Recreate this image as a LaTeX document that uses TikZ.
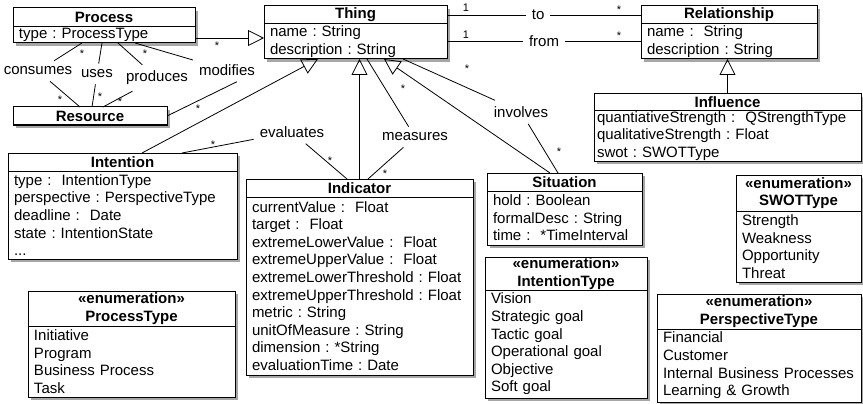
\documentclass[tikz,border=0pt]{standalone}
\usepackage{fontspec}
\setmainfont{Liberation Sans}
\usepackage{tikz}
\usetikzlibrary{arrows.meta, positioning, shadows}

\newcommand{\umlsize}{\fontsize{15}{17.6}\selectfont}
\newcommand{\multsize}{\fontsize{11}{12}\selectfont}
\frenchspacing

\begin{document}
\begin{tikzpicture}[
  x=1pt, y=-1pt,
  umlshadow/.style={drop shadow={shadow xshift=2.5pt, shadow yshift=-3pt, opacity=0.35, fill=black}},
  cls/.style={rectangle, draw, line width=1pt, fill=white, outer sep=0pt, inner sep=0pt, anchor=north, align=center, font=\umlsize\bfseries, umlshadow},
  attrs/.style={rectangle, draw, line width=1pt, fill=white, outer sep=0pt, inner xsep=6pt, inner ysep=0pt, align=left, font=\umlsize, umlshadow},
  lbl/.style={font=\umlsize, inner sep=6pt},
  mult/.style={font=\multsize, inner sep=0pt},
  gen/.style={-{Triangle[open, length=16pt, width=16pt]}, line width=0.8pt},
  assoc/.style={line width=0.8pt}
]
  \path[use as bounding box, fill=white] (0,0) rectangle (863,404);

  % classes
  \node[cls, minimum width=182pt, minimum height=19pt] (process) at (104,8) {Process};
  \node[attrs, below=0pt of process, text width=170pt, minimum height=16pt] (process-a) {type : ProcessType};
  \node[cls, minimum width=154pt, minimum height=18pt] (resource) at (90,107) {Resource};

  \node[cls, minimum width=183pt, minimum height=18pt] (thing) at (355.5,6) {Thing};
  \node[attrs, below=0pt of thing, text width=171pt, minimum height=35pt] (thing-a) {name : String\\description : String};

  \node[cls, minimum width=176pt, minimum height=18pt] (rel) at (729,6) {Relationship};
  \node[attrs, below=0pt of rel, text width=164pt, minimum height=35pt] (rel-a) {name :~ String\\description : String};

  \node[cls, minimum width=267pt, minimum height=17pt] (infl) at (727.5,94) {Influence};
  \node[attrs, below=0pt of infl, inner xsep=3pt, text width=261pt, minimum height=50pt] (infl-a) {quantiativeStrength :~ QStrengthType\\qualitativeStrength : Float\\swot : SWOTType};

  \node[cls, minimum width=229pt, minimum height=18pt] (intention) at (122.5,153) {Intention};
  \node[attrs, below=0pt of intention, text width=217pt, minimum height=88pt] (intention-a) {type :~ IntentionType\\perspective : PerspectiveType\\deadline :~ Date\\state : IntentionState\\...};

  \node[cls, minimum width=227pt, minimum height=18pt] (indicator) at (359.5,179) {Indicator};
  \node[attrs, below=0pt of indicator, text width=215pt, minimum height=178pt] (indicator-a) {currentValue :~ Float\\target :~ Float\\extremeLowerValue :~ Float\\extremeUpperValue :~ Float\\extremeLowerThreshold : Float\\extremeUpperThreshold : Float\\metric : String\\unitOfMeasure : String\\dimension : *String\\evaluationTime : Date};

  \node[cls, minimum width=155pt, minimum height=18pt] (situation) at (564.5,173) {Situation};
  \node[attrs, below=0pt of situation, text width=143pt, minimum height=54pt] (situation-a) {hold : Boolean\\formalDesc : String\\time :~ *TimeInterval};

  % enumerations
  \node[cls, minimum width=125pt, minimum height=36pt] (swot) at (798.5,175) {«enumeration»\\SWOTType};
  \node[attrs, below=0pt of swot, text width=113pt, minimum height=71pt] (swot-a) {Strength\\Weakness\\Opportunity\\Threat};

  \node[cls, minimum width=162pt, minimum height=33pt] (inttype) at (566,257) {«enumeration»\\IntentionType};
  \node[attrs, below=0pt of inttype, text width=150pt, minimum height=108pt] (inttype-a) {Vision\\Strategic goal\\Tactic goal\\Operational goal\\Objective\\Soft goal};

  \node[cls, minimum width=204pt, minimum height=35pt] (persptype) at (759,294) {«enumeration»\\PerspectiveType};
  \node[attrs, below=0pt of persptype, text width=192pt, minimum height=73pt] (persptype-a) {Financial\\Customer\\Internal Business Processes\\Learning \& Growth};

  \node[cls, minimum width=207pt, minimum height=35pt] (proctype) at (131.5,291) {«enumeration»\\ProcessType};
  \node[attrs, below=0pt of proctype, text width=195pt, minimum height=71pt] (proctype-a) {Initiative\\Program\\Business Process\\Task};

  % generalisations
  \draw[gen] ([yshift=-3pt]process-a.east) -- ([yshift=-3pt]process-a.east -| thing-a.west);
  \draw[gen] (infl.north) -- (infl.north |- rel-a.south);
  \draw[gen] ([xshift=19.5pt]intention.north) -- ([xshift=-37.5pt]thing-a.south);
  \draw[gen] (indicator.north) -- (indicator.north |- thing-a.south);
  \draw[gen] ([xshift=-14.5pt]situation.north) -- ([xshift=28.5pt]thing-a.south);

  % associations
  \draw[assoc] (thing.east) -- node[lbl, fill=white, pos=0.47] (lto) {to} (rel.west);
  \draw[assoc] (thing-a.east) -- node[lbl, fill=white, pos=0.5] (lfrom) {from} (rel-a.west);

  \node[lbl] (lcons) at (38,71) {consumes};
  \node[lbl] (luses) at (97,74) {uses};
  \node[lbl] (lprod) at (157,78) {produces};
  \node[lbl] (lmod) at (227,70) {modifies};
  \draw[assoc] ([xshift=-22pt]process-a.south) -- (lcons) (lcons) -- ([xshift=-10pt]resource.north);
  \draw[assoc] ([xshift=-2pt]process-a.south) -- (luses) (luses) -- ([xshift=2pt]resource.north);
  \draw[assoc] ([xshift=14pt]process-a.south) -- (lprod) (lprod) -- ([xshift=13pt]resource.north);
  \draw[assoc] ([xshift=31pt]process-a.south) -- (lmod) ([xshift=10pt]lmod.south) -- (resource.east);

  \node[lbl] (leval) at (292,132) {evaluates};
  \node[lbl] (lmeas) at (415,137) {measures};
  \node[lbl] (linv) at (521,112) {involves};
  \draw[assoc] ([xshift=59.5pt]intention.north) -- (leval) (leval) -- ([xshift=-12.5pt]indicator.north);
  \draw[assoc] ([xshift=11.5pt]thing-a.south) -- (lmeas) (lmeas) -- ([xshift=8.5pt]indicator.north);
  \draw[assoc] ([xshift=47.5pt]thing-a.south) -- (linv) (linv) -- ([xshift=-6.5pt]situation.north);

  % multiplicities
  \node[mult] (n1) at (466,8) {1};
  \node[mult] (n2) at (466,35) {1};
  \node[mult] (m1) at (619,10) {*};
  \node[mult] (m2) at (619,36) {*};
  \node[mult] (m3) at (82,54) {*};
  \node[mult] (m4) at (145,54) {*};
  \node[mult] (m5) at (217,46) {*};
  \node[mult] (m6) at (60,100) {*};
  \node[mult] (m7) at (100,97) {*};
  \node[mult] (m8) at (120,102) {*};
  \node[mult] (m9) at (198,109) {*};
  \node[mult] (m10) at (213,145) {*};
  \node[mult] (m11) at (330,161) {*};
  \node[mult] (m12) at (385,174) {*};
  \node[mult] (m13) at (403,89) {*};
  \node[mult] (m14) at (467,69) {*};
  \node[mult] (m15) at (559,152) {*};
\end{tikzpicture}
\end{document}
